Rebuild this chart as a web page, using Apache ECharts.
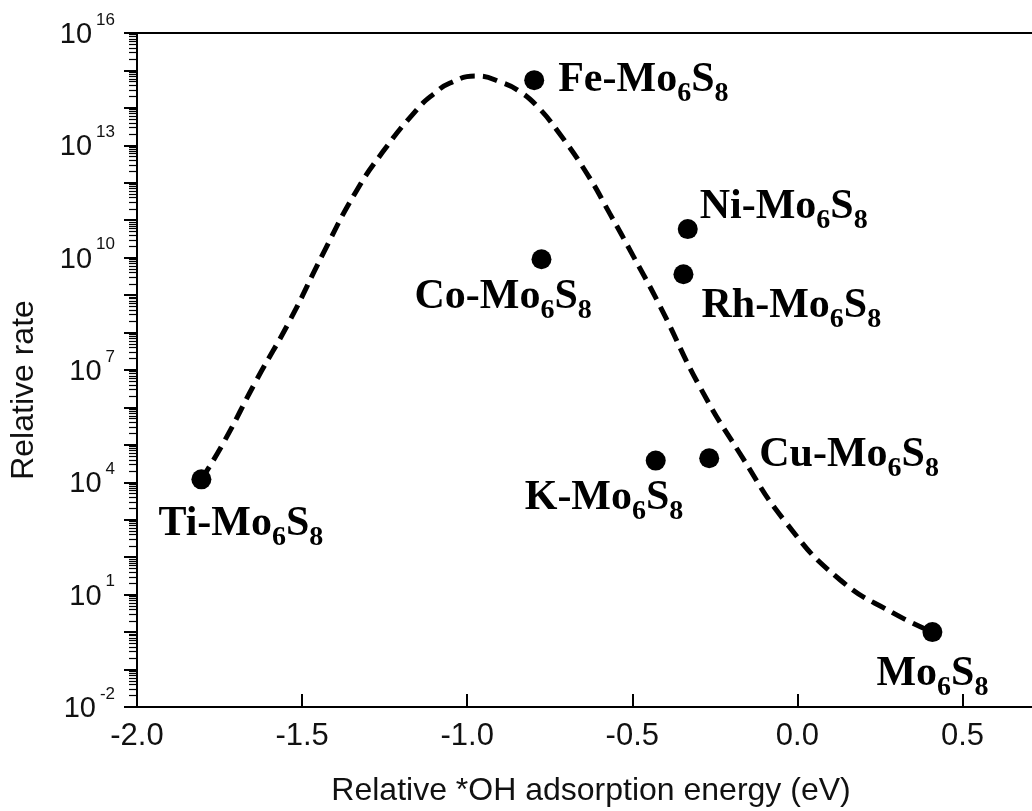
<!DOCTYPE html>
<html>
<head>
<meta charset="utf-8">
<title>Relative rate vs *OH adsorption energy</title>
<script src="https://cdn.jsdelivr.net/npm/echarts@6/dist/echarts.min.js"></script>
<style>
  html, body { margin: 0; padding: 0; background: #fff; }
  #chart { width: 1032px; height: 811px; }
</style>
</head>
<body>
<div id="chart"></div>
<script>
// Doped Mo6S8 clusters: relative *OH adsorption energy (eV) and relative rate
const catalysts = ['Ti-Mo6S8', 'Fe-Mo6S8', 'Co-Mo6S8', 'Ni-Mo6S8', 'Rh-Mo6S8', 'K-Mo6S8', 'Cu-Mo6S8', 'Mo6S8'];
const ohEnergy  = [-1.805, -0.797, -0.775, -0.332, -0.345, -0.429, -0.267, 0.409];
const relRate   = [1.2e4, 5.5e14, 9.1e9, 5.8e10, 3.6e9, 3.8e4, 4.4e4, 1.0];

// Volcano trend line (dashed)
const curveEnergy = [-1.805, -1.739, -1.638, -1.537, -1.436, -1.340, -1.255, -1.153, -1.103, -1.052,
                     -0.974, -0.891, -0.840, -0.790, -0.729, -0.638, -0.568, -0.497, -0.416, -0.295,
                     -0.174, -0.032, 0.129, 0.291, 0.409];
const curveRate   = [1.2e4, 1.1e5, 5.4e6, 2.1e8, 1.3e10, 5.2e11, 6.8e12, 8.9e13, 2.3e14, 4.6e14,
                     7.1e14, 4.6e14, 2.7e14, 1.15e14, 2.6e13, 1.8e12, 1.5e11, 1.1e10, 5.1e8, 3.5e6,
                     5.9e4, 7.9e2, 25, 3.2, 1.0];

// Axis tick labels
const xTickLabels = [-2.0, -1.5, -1.0, -0.5, 0.0, 0.5];
const yLabelExponents = [-2, 1, 4, 7, 10, 13, 16];

// Label placement: text start / cap top relative to the marker centre (px)
const labelDx = [-43, 24, -127, 12, 18, -131, 50, -56];
const labelDy = [31, -14, 24, -36, 18, 24, -17, 28];

const MARK = 20;
const CAP_OFFSET = 7.4;

function richName(name) {
  return '{m|' + name.replace(/(\d)/g, '}{s|$1}{m|') + '}';
}

// minor log ticks (2..9 in each decade), in exponent units
const minorTickPos = [];
for (let e = -2; e < 16; e++) {
  for (let k = 2; k <= 9; k++) minorTickPos.push(e + Math.log10(k));
}

const chart = echarts.init(document.getElementById('chart'), null, { renderer: 'canvas' });

const scatterData = catalysts.map((name, i) => ({
  name: name,
  value: [ohEnergy[i], relRate[i]],
  label: {
    show: true,
    position: [labelDx[i] + MARK / 2, labelDy[i] + MARK / 2 - CAP_OFFSET],
    formatter: richName(name)
  }
}));

const option = {
  animation: false,
  backgroundColor: '#fff',
  grid: {
    left: 137, right: -13, top: 33, bottom: 104,
    containLabel: false, outerBoundsMode: 'none',
    show: true, borderColor: '#000', borderWidth: 2, backgroundColor: 'transparent'
  },
  xAxis: {
    type: 'value', min: -2, max: 0.75, interval: 0.5,
    name: 'Relative *OH adsorption energy (eV)',
    nameLocation: 'middle', nameGap: 68,
    nameTextStyle: { fontFamily: 'Liberation Sans', fontSize: 32, color: '#111' },
    axisLine: { show: true, onZero: false, lineStyle: { color: '#000', width: 2 } },
    axisTick: { show: true, inside: true, length: 13, lineStyle: { color: '#000', width: 2 } },
    axisLabel: {
      margin: 14, fontFamily: 'Liberation Sans', fontSize: 31, color: '#111',
      showMaxLabel: false,
      formatter: v => xTickLabels.some(t => Math.abs(t - v) < 1e-9) ? v.toFixed(1) : ''
    },
    splitLine: { show: false }
  },
  yAxis: [{
    type: 'log', logBase: 10, min: 1e-2, max: 1e16, interval: 1,
    axisLine: { show: true, onZero: false, lineStyle: { color: '#000', width: 2 } },
    axisTick: { show: true, inside: false, length: 13, lineStyle: { color: '#000', width: 2 } },
    axisLabel: {
      margin: 22, color: '#111', fontFamily: 'Liberation Sans',
      formatter: v => {
        const e = Math.round(Math.log10(v));
        return yLabelExponents.indexOf(e) >= 0 ? '{b|10}{s|' + e + '}' : '';
      },
      rich: {
        b: { fontFamily: 'Liberation Sans', fontSize: 29, color: '#111', padding: [16, 0, 12, 0], verticalAlign: 'top' },
        s: { fontFamily: 'Liberation Sans', fontSize: 17, color: '#111', padding: [7, 0, 0, 4], verticalAlign: 'top' }
      }
    },
    splitLine: { show: false }
  }, {
    // minor log ticks, drawn on an exponent-scaled twin of the left axis
    type: 'value', min: -2, max: 16, position: 'left',
    axisLine: { show: false, onZero: false },
    axisTick: { show: true, inside: false, length: 8, customValues: minorTickPos, lineStyle: { color: '#000', width: 1.2 } },
    axisLabel: { show: false },
    splitLine: { show: false }
  }],
  graphic: [{
    type: 'text', x: 24, y: 390, rotation: Math.PI / 2,
    style: {
      text: 'Relative rate', fontFamily: 'Liberation Sans', fontSize: 32, fill: '#111',
      textAlign: 'center', textVerticalAlign: 'middle'
    }
  }],
  series: [{
    type: 'line',
    data: curveEnergy.map((x, i) => [x, curveRate[i]]),
    smooth: 0.5,
    symbol: 'none',
    lineStyle: { color: '#000', width: 5, type: [15, 8] },
    z: 2
  }, {
    type: 'scatter',
    data: scatterData,
    symbol: 'circle',
    symbolSize: MARK,
    itemStyle: { color: '#000', opacity: 1 },
    label: {
      show: true,
      color: '#000',
      rich: {
        m: { fontFamily: 'Liberation Serif', fontWeight: 'bold', fontSize: 42, color: '#000', verticalAlign: 'top' },
        s: { fontFamily: 'Liberation Serif', fontWeight: 'bold', fontSize: 28, color: '#000', padding: [21, 0, 0, 0], verticalAlign: 'top' }
      }
    },
    labelLayout: { hideOverlap: false },
    z: 3
  }]
};

chart.setOption(option);
</script>
</body>
</html>
